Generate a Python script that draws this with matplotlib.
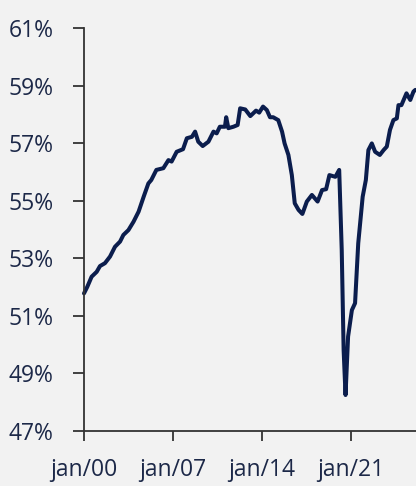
import matplotlib
matplotlib.use("Agg")
import matplotlib.pyplot as plt

years = [2000.0, 2000.25, 2000.6, 2001.0, 2001.26, 2001.65, 2002.05, 2002.44, 2002.84, 2003.1,
         2003.5, 2003.9, 2004.3, 2004.7, 2005.07, 2005.3, 2005.7, 2006.25, 2006.65, 2006.9,
         2007.3, 2007.8, 2008.1, 2008.5, 2008.75, 2009.0, 2009.35, 2009.8, 2010.2, 2010.45,
         2010.7, 2011.1, 2011.2, 2011.37, 2011.77, 2012.1, 2012.3, 2012.7, 2013.1, 2013.55,
         2013.8, 2014.1, 2014.4, 2014.65, 2014.9, 2015.3, 2015.6, 2015.8, 2016.1, 2016.37,
         2016.6, 2016.9, 2017.2, 2017.55, 2017.95, 2018.4, 2018.75, 2019.07, 2019.33, 2019.8,
         2020.1, 2020.3, 2020.45, 2020.6, 2020.8, 2021.1, 2021.35, 2021.6, 2021.95, 2022.2,
         2022.4, 2022.67, 2022.93, 2023.3, 2023.6, 2023.85, 2024.1, 2024.37, 2024.64, 2024.77,
         2025.0, 2025.4, 2025.7, 2025.95, 2026.1]
values = [51.78, 52.00, 52.36, 52.53, 52.73, 52.83, 53.06, 53.40, 53.58, 53.81,
          53.98, 54.27, 54.62, 55.14, 55.60, 55.72, 56.07, 56.13, 56.41, 56.36,
          56.70, 56.79, 57.17, 57.22, 57.40, 57.05, 56.90, 57.05, 57.40, 57.34,
          57.57, 57.57, 57.90, 57.52, 57.57, 57.63, 58.21, 58.17, 57.94, 58.13,
          58.06, 58.27, 58.15, 57.90, 57.90, 57.80, 57.40, 56.99, 56.59, 55.89,
          54.91, 54.68, 54.54, 54.97, 55.20, 54.97, 55.37, 55.40, 55.89, 55.83,
          56.07, 53.29, 49.81, 48.25, 50.28, 51.20, 51.44, 53.52, 55.14, 55.72,
          56.76, 56.99, 56.70, 56.59, 56.76, 56.88, 57.46, 57.80, 57.86, 58.32,
          58.32, 58.73, 58.50, 58.79, 58.85]

x_tick_pos = [2000, 2007, 2014, 2021]
x_tick_labels = ["jan/00", "jan/07", "jan/14", "jan/21"]
y_ticks = [47, 49, 51, 53, 55, 57, 59, 61]
y_tick_labels = ["47%", "49%", "51%", "53%", "55%", "57%", "59%", "61%"]

bg = "#f2f2f2"
navy = "#0b1d4d"
text_col = "#1c2848"

plt.rcParams['font.family'] = ['Open Sans', 'DejaVu Sans']

fig = plt.figure(figsize=(4.16, 4.86), dpi=100, facecolor=bg)
ax = fig.add_axes([84/416, 1 - 431/486, 1 - 84/416, (431 - 28)/486])
ax.set_facecolor(bg)

ax.plot(years, values, color=navy, lw=2.9, solid_joinstyle="round", solid_capstyle="round",
        clip_on=False)

ax.set_xlim(2000, 2026.15)
ax.set_ylim(47, 61)
ax.set_xticks(x_tick_pos)
ax.set_xticklabels(x_tick_labels)
ax.set_yticks(y_ticks)
ax.set_yticklabels(y_tick_labels)

for s in ["top", "right"]:
    ax.spines[s].set_visible(False)
for s in ["left", "bottom"]:
    ax.spines[s].set_color("#333333")
    ax.spines[s].set_linewidth(1.3)

ax.tick_params(axis="y", length=8, width=1.3, color="#333333", pad=14,
               labelsize=16.5, labelcolor=text_col)
ax.tick_params(axis="x", length=7.5, width=1.3, color="#333333", pad=12,
               labelsize=16.5, labelcolor=text_col)

fig.savefig("out.png", dpi=100, facecolor=bg)
